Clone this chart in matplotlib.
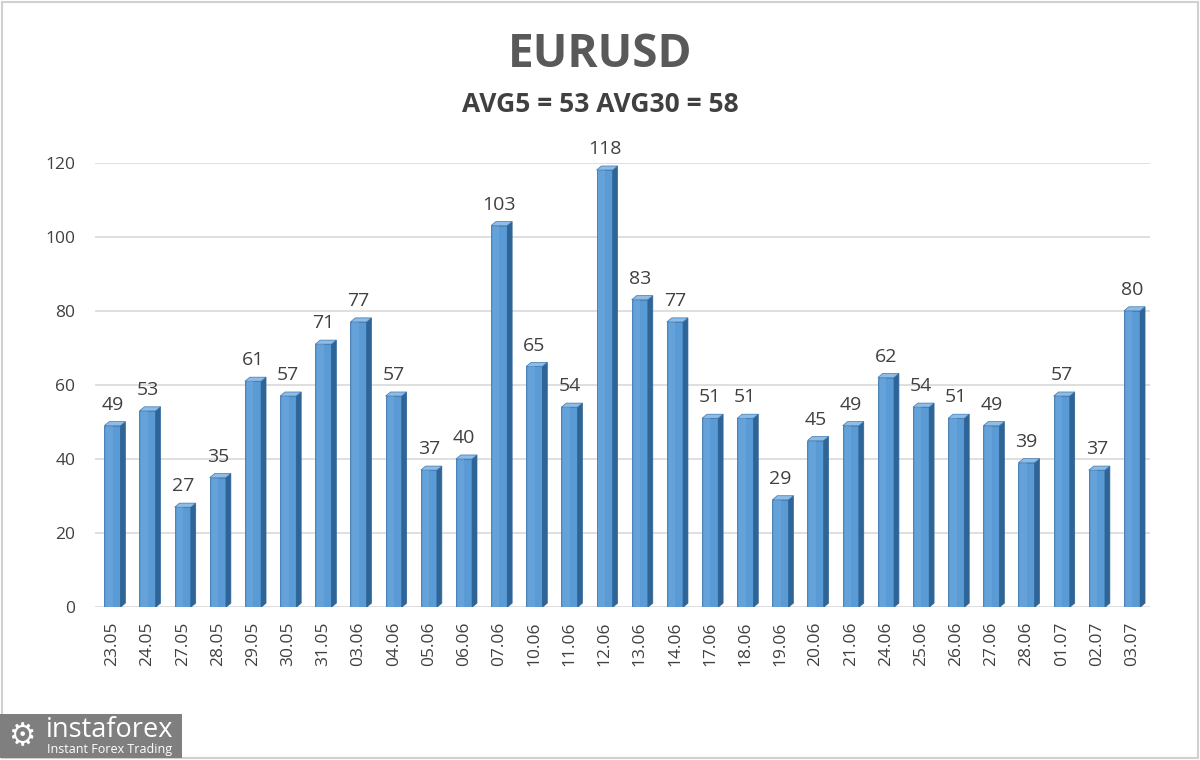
import matplotlib.pyplot as plt
from matplotlib.patches import Polygon, Rectangle
import numpy as np

# === data ===
dates = ["23.05", "24.05", "27.05", "28.05", "29.05", "30.05", "31.05", "03.06",
         "04.06", "05.06", "06.06", "07.06", "10.06", "11.06", "12.06", "13.06",
         "14.06", "17.06", "18.06", "19.06", "20.06", "21.06", "24.06", "25.06",
         "26.06", "27.06", "28.06", "01.07", "02.07", "03.07"]
values = [49, 53, 27, 35, 61, 57, 71, 77, 57, 37, 40, 103, 65, 54, 118, 83,
          77, 51, 51, 29, 45, 49, 62, 54, 51, 49, 39, 57, 37, 80]
yticks = [0, 20, 40, 60, 80, 100, 120]

plt.rcParams['font.family'] = ['Open Sans', 'DejaVu Sans']

fig = plt.figure(figsize=(12, 7.6), dpi=100)
ax = fig.add_axes([0.079, 0.201, 0.879, 0.585])

x = np.arange(len(values))
w = 0.46
dx, dy = 0.14, 1.1   # fake 3D depth

ax.set_xlim(-0.5, len(values) - 0.5)
ax.set_ylim(0, 120)

for t in yticks:
    ax.axhline(t, color="#D9D9D9", lw=1.2, zorder=0)

bars = ax.bar(x, values, width=w, color="#5B9BD5", edgecolor="#3C78B0", lw=0.6, zorder=3)
for xi, v in zip(x, values):
    l, r = xi - w / 2, xi + w / 2
    # right side face
    ax.add_patch(Polygon([[r, 0], [r + dx, dy], [r + dx, v + dy], [r, v]],
                         closed=True, fc="#2F6497", ec="#2F6497", lw=0.5, zorder=3))
    # top face
    ax.add_patch(Polygon([[l, v], [l + dx, v + dy], [r + dx, v + dy], [r, v]],
                         closed=True, fc="#8DBCE6", ec="#3C78B0", lw=0.5, zorder=3))
    # soft highlight on the front face
    ax.add_patch(Rectangle((l + w * 0.12, 0), w * 0.4, v, fc="#72AAE0", ec="none",
                           alpha=0.5, zorder=3.5))
    ax.text(xi, v + 3.2, str(v), ha="center", va="bottom", fontsize=14,
            color="#404040", zorder=4)

ax.set_yticks(yticks)
ax.set_yticklabels([str(t) for t in yticks], fontsize=12.5, color="#404040")
ax.set_xticks(x)
ax.set_xticklabels(dates, rotation=90, fontsize=12.5, color="#404040")
ax.tick_params(length=0, axis="both")
ax.tick_params(axis="x", pad=10)
ax.tick_params(axis="y", pad=14)
for s in ax.spines.values():
    s.set_visible(False)

# titles
fig.text(0.5, 0.928, "EURUSD", ha="center", va="center", fontsize=33,
         fontweight="bold", color="#595959")
fig.text(0.5, 0.862, "AVG5 = 53 AVG30 = 58", ha="center", va="center",
         fontsize=19, fontweight="bold", color="#404040")

# border
fig.patches.append(Rectangle((0.002, 0.003), 0.996, 0.994, transform=fig.transFigure,
                             fill=False, ec="#D0D0D0", lw=1.5))

# watermark logo
fig.patches.append(Rectangle((0.0, 0.003), 0.152, 0.058, transform=fig.transFigure,
                             fc="#7F7F7F", ec="none"))
fig.text(0.038, 0.040, "instaforex", fontsize=19.5, color="white", va="center", ha="left")
fig.text(0.039, 0.014, "Instant Forex Trading", fontsize=9, color="white", va="center", ha="left")
fig.text(0.018, 0.031, "\u2699", fontsize=22, color="white", va="center", ha="center",
         family=["DejaVu Sans"])

fig.savefig("out.png", dpi=100)
